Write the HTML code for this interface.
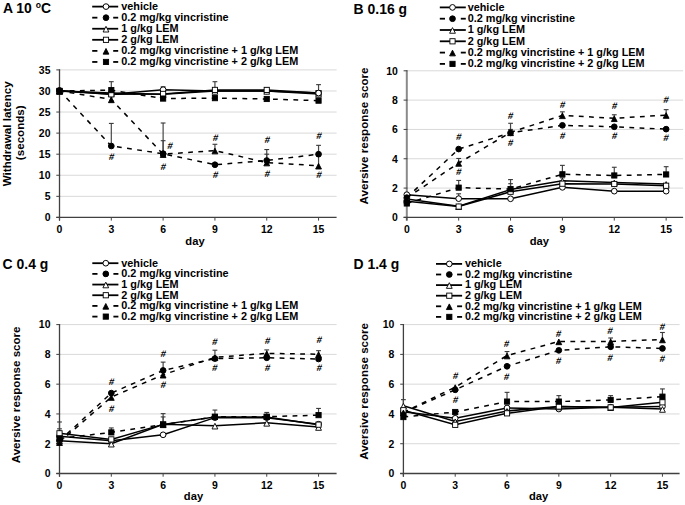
<!DOCTYPE html><html><head><meta charset="utf-8"><style>html,body{margin:0;padding:0;background:#fff;}svg{display:block;}text{font-family:"Liberation Sans", sans-serif;}</style></head><body>
<svg width="685" height="505" viewBox="0 0 685 505">
<rect width="685" height="505" fill="#fff"/>
<g><line x1="59.50" y1="196.33" x2="336.60" y2="196.33" stroke="#d9d9d9" stroke-width="1"/><line x1="59.50" y1="175.26" x2="336.60" y2="175.26" stroke="#d9d9d9" stroke-width="1"/><line x1="59.50" y1="154.19" x2="336.60" y2="154.19" stroke="#d9d9d9" stroke-width="1"/><line x1="59.50" y1="133.11" x2="336.60" y2="133.11" stroke="#d9d9d9" stroke-width="1"/><line x1="59.50" y1="112.04" x2="336.60" y2="112.04" stroke="#d9d9d9" stroke-width="1"/><line x1="59.50" y1="90.97" x2="336.60" y2="90.97" stroke="#d9d9d9" stroke-width="1"/><line x1="59.50" y1="69.90" x2="336.60" y2="69.90" stroke="#d9d9d9" stroke-width="1"/><line x1="59.50" y1="69.40" x2="59.50" y2="220.60" stroke="#404040" stroke-width="1.3"/><line x1="56.30" y1="217.40" x2="336.60" y2="217.40" stroke="#404040" stroke-width="1.3"/><line x1="56.30" y1="217.40" x2="60.10" y2="217.40" stroke="#404040" stroke-width="1"/><text x="0" y="0" font-size="10.9" font-weight="bold" text-anchor="end" transform="translate(50.50,221.25) scale(0.96,1)">0</text><line x1="56.30" y1="196.33" x2="60.10" y2="196.33" stroke="#404040" stroke-width="1"/><text x="0" y="0" font-size="10.9" font-weight="bold" text-anchor="end" transform="translate(50.50,200.18) scale(0.96,1)">5</text><line x1="56.30" y1="175.26" x2="60.10" y2="175.26" stroke="#404040" stroke-width="1"/><text x="0" y="0" font-size="10.9" font-weight="bold" text-anchor="end" transform="translate(50.50,179.11) scale(0.96,1)">10</text><line x1="56.30" y1="154.19" x2="60.10" y2="154.19" stroke="#404040" stroke-width="1"/><text x="0" y="0" font-size="10.9" font-weight="bold" text-anchor="end" transform="translate(50.50,158.04) scale(0.96,1)">15</text><line x1="56.30" y1="133.11" x2="60.10" y2="133.11" stroke="#404040" stroke-width="1"/><text x="0" y="0" font-size="10.9" font-weight="bold" text-anchor="end" transform="translate(50.50,136.96) scale(0.96,1)">20</text><line x1="56.30" y1="112.04" x2="60.10" y2="112.04" stroke="#404040" stroke-width="1"/><text x="0" y="0" font-size="10.9" font-weight="bold" text-anchor="end" transform="translate(50.50,115.89) scale(0.96,1)">25</text><line x1="56.30" y1="90.97" x2="60.10" y2="90.97" stroke="#404040" stroke-width="1"/><text x="0" y="0" font-size="10.9" font-weight="bold" text-anchor="end" transform="translate(50.50,94.82) scale(0.96,1)">30</text><line x1="56.30" y1="69.90" x2="60.10" y2="69.90" stroke="#404040" stroke-width="1"/><text x="0" y="0" font-size="10.9" font-weight="bold" text-anchor="end" transform="translate(50.50,73.75) scale(0.96,1)">35</text><line x1="59.50" y1="217.40" x2="59.50" y2="220.60" stroke="#444" stroke-width="1"/><text x="0" y="0" font-size="10.9" font-weight="bold" text-anchor="middle" transform="translate(59.50,233.30) scale(0.96,1)">0</text><line x1="111.31" y1="217.40" x2="111.31" y2="220.60" stroke="#444" stroke-width="1"/><text x="0" y="0" font-size="10.9" font-weight="bold" text-anchor="middle" transform="translate(111.31,233.30) scale(0.96,1)">3</text><line x1="163.12" y1="217.40" x2="163.12" y2="220.60" stroke="#444" stroke-width="1"/><text x="0" y="0" font-size="10.9" font-weight="bold" text-anchor="middle" transform="translate(163.12,233.30) scale(0.96,1)">6</text><line x1="214.93" y1="217.40" x2="214.93" y2="220.60" stroke="#444" stroke-width="1"/><text x="0" y="0" font-size="10.9" font-weight="bold" text-anchor="middle" transform="translate(214.93,233.30) scale(0.96,1)">9</text><line x1="266.74" y1="217.40" x2="266.74" y2="220.60" stroke="#444" stroke-width="1"/><text x="0" y="0" font-size="10.9" font-weight="bold" text-anchor="middle" transform="translate(266.74,233.30) scale(0.96,1)">12</text><line x1="318.55" y1="217.40" x2="318.55" y2="220.60" stroke="#444" stroke-width="1"/><text x="0" y="0" font-size="10.9" font-weight="bold" text-anchor="middle" transform="translate(318.55,233.30) scale(0.96,1)">15</text><line x1="111.31" y1="146.01" x2="111.31" y2="123.42" stroke="#484848" stroke-width="1.2"/><line x1="108.91" y1="123.42" x2="113.71" y2="123.42" stroke="#383838" stroke-width="1.1"/><line x1="163.12" y1="153.76" x2="163.12" y2="123.00" stroke="#484848" stroke-width="1.2"/><line x1="160.72" y1="123.00" x2="165.52" y2="123.00" stroke="#383838" stroke-width="1.1"/><line x1="163.12" y1="154.19" x2="163.12" y2="140.70" stroke="#484848" stroke-width="1.2"/><line x1="160.72" y1="140.70" x2="165.52" y2="140.70" stroke="#383838" stroke-width="1.1"/><line x1="214.93" y1="150.60" x2="214.93" y2="144.28" stroke="#484848" stroke-width="1.2"/><line x1="212.53" y1="144.28" x2="217.33" y2="144.28" stroke="#383838" stroke-width="1.1"/><line x1="266.74" y1="160.51" x2="266.74" y2="149.55" stroke="#484848" stroke-width="1.2"/><line x1="264.34" y1="149.55" x2="269.14" y2="149.55" stroke="#383838" stroke-width="1.1"/><line x1="266.74" y1="162.61" x2="266.74" y2="154.19" stroke="#484848" stroke-width="1.2"/><line x1="264.34" y1="154.19" x2="269.14" y2="154.19" stroke="#383838" stroke-width="1.1"/><line x1="318.55" y1="154.19" x2="318.55" y2="145.34" stroke="#484848" stroke-width="1.2"/><line x1="316.15" y1="145.34" x2="320.95" y2="145.34" stroke="#383838" stroke-width="1.1"/><line x1="318.55" y1="165.78" x2="318.55" y2="155.87" stroke="#484848" stroke-width="1.2"/><line x1="316.15" y1="155.87" x2="320.95" y2="155.87" stroke="#383838" stroke-width="1.1"/><line x1="111.31" y1="90.13" x2="111.31" y2="81.70" stroke="#484848" stroke-width="1.2"/><line x1="108.91" y1="81.70" x2="113.71" y2="81.70" stroke="#383838" stroke-width="1.1"/><line x1="214.93" y1="89.92" x2="214.93" y2="81.70" stroke="#484848" stroke-width="1.2"/><line x1="212.53" y1="81.70" x2="217.33" y2="81.70" stroke="#383838" stroke-width="1.1"/><line x1="318.55" y1="93.08" x2="318.55" y2="84.65" stroke="#484848" stroke-width="1.2"/><line x1="316.15" y1="84.65" x2="320.95" y2="84.65" stroke="#383838" stroke-width="1.1"/><line x1="163.12" y1="89.71" x2="163.12" y2="86.76" stroke="#484848" stroke-width="1.2"/><line x1="160.72" y1="86.76" x2="165.52" y2="86.76" stroke="#383838" stroke-width="1.1"/><line x1="266.74" y1="89.92" x2="266.74" y2="87.60" stroke="#484848" stroke-width="1.2"/><line x1="264.34" y1="87.60" x2="269.14" y2="87.60" stroke="#383838" stroke-width="1.1"/><polyline points="59.50,90.55 111.31,94.34 163.12,89.71 214.93,90.97 266.74,90.97 318.55,93.08" fill="none" stroke="#000" stroke-width="1.5"/><polyline points="59.50,90.55 111.31,146.01 163.12,153.76 214.93,164.72 266.74,160.51 318.55,154.19" fill="none" stroke="#000" stroke-width="1.5" stroke-dasharray="4.8,5.4"/><polyline points="59.50,90.97 111.31,93.08 163.12,94.34 214.93,90.97 266.74,90.97 318.55,93.92" fill="none" stroke="#000" stroke-width="1.5"/><polyline points="59.50,90.97 111.31,94.34 163.12,93.92 214.93,89.92 266.74,89.92 318.55,93.08" fill="none" stroke="#000" stroke-width="1.5"/><polyline points="59.50,90.97 111.31,99.40 163.12,154.19 214.93,150.60 266.74,162.61 318.55,165.78" fill="none" stroke="#000" stroke-width="1.5" stroke-dasharray="4.8,5.4"/><polyline points="59.50,90.97 111.31,90.13 163.12,98.56 214.93,98.14 266.74,98.98 318.55,100.66" fill="none" stroke="#000" stroke-width="1.5" stroke-dasharray="4.8,5.4"/><circle cx="59.50" cy="90.55" r="2.85" fill="#fff" stroke="#000" stroke-width="1"/><circle cx="111.31" cy="94.34" r="2.85" fill="#fff" stroke="#000" stroke-width="1"/><circle cx="163.12" cy="89.71" r="2.85" fill="#fff" stroke="#000" stroke-width="1"/><circle cx="214.93" cy="90.97" r="2.85" fill="#fff" stroke="#000" stroke-width="1"/><circle cx="266.74" cy="90.97" r="2.85" fill="#fff" stroke="#000" stroke-width="1"/><circle cx="318.55" cy="93.08" r="2.85" fill="#fff" stroke="#000" stroke-width="1"/><circle cx="59.50" cy="90.55" r="2.85" fill="#000" stroke="#000" stroke-width="1"/><circle cx="111.31" cy="146.01" r="2.85" fill="#000" stroke="#000" stroke-width="1"/><circle cx="163.12" cy="153.76" r="2.85" fill="#000" stroke="#000" stroke-width="1"/><circle cx="214.93" cy="164.72" r="2.85" fill="#000" stroke="#000" stroke-width="1"/><circle cx="266.74" cy="160.51" r="2.85" fill="#000" stroke="#000" stroke-width="1"/><circle cx="318.55" cy="154.19" r="2.85" fill="#000" stroke="#000" stroke-width="1"/><path d="M59.50,88.57 L62.40,94.23 L56.60,94.23 Z" fill="#fff" stroke="#000" stroke-width="0.9" stroke-linejoin="miter"/><path d="M111.31,90.68 L114.21,96.33 L108.41,96.33 Z" fill="#fff" stroke="#000" stroke-width="0.9" stroke-linejoin="miter"/><path d="M163.12,91.94 L166.02,97.60 L160.22,97.60 Z" fill="#fff" stroke="#000" stroke-width="0.9" stroke-linejoin="miter"/><path d="M214.93,88.57 L217.83,94.23 L212.03,94.23 Z" fill="#fff" stroke="#000" stroke-width="0.9" stroke-linejoin="miter"/><path d="M266.74,88.57 L269.64,94.23 L263.84,94.23 Z" fill="#fff" stroke="#000" stroke-width="0.9" stroke-linejoin="miter"/><path d="M318.55,91.52 L321.45,97.18 L315.65,97.18 Z" fill="#fff" stroke="#000" stroke-width="0.9" stroke-linejoin="miter"/><rect x="56.90" y="88.37" width="5.20" height="5.20" fill="#fff" stroke="#000" stroke-width="0.9"/><rect x="108.71" y="91.74" width="5.20" height="5.20" fill="#fff" stroke="#000" stroke-width="0.9"/><rect x="160.52" y="91.32" width="5.20" height="5.20" fill="#fff" stroke="#000" stroke-width="0.9"/><rect x="212.33" y="87.32" width="5.20" height="5.20" fill="#fff" stroke="#000" stroke-width="0.9"/><rect x="264.14" y="87.32" width="5.20" height="5.20" fill="#fff" stroke="#000" stroke-width="0.9"/><rect x="315.95" y="90.48" width="5.20" height="5.20" fill="#fff" stroke="#000" stroke-width="0.9"/><path d="M59.50,88.57 L62.40,94.23 L56.60,94.23 Z" fill="#000" stroke="#000" stroke-width="0.9" stroke-linejoin="miter"/><path d="M111.31,97.00 L114.21,102.66 L108.41,102.66 Z" fill="#000" stroke="#000" stroke-width="0.9" stroke-linejoin="miter"/><path d="M163.12,151.79 L166.02,157.44 L160.22,157.44 Z" fill="#000" stroke="#000" stroke-width="0.9" stroke-linejoin="miter"/><path d="M214.93,148.20 L217.83,153.86 L212.03,153.86 Z" fill="#000" stroke="#000" stroke-width="0.9" stroke-linejoin="miter"/><path d="M266.74,160.21 L269.64,165.87 L263.84,165.87 Z" fill="#000" stroke="#000" stroke-width="0.9" stroke-linejoin="miter"/><path d="M318.55,163.38 L321.45,169.03 L315.65,169.03 Z" fill="#000" stroke="#000" stroke-width="0.9" stroke-linejoin="miter"/><rect x="56.90" y="88.37" width="5.20" height="5.20" fill="#000" stroke="#000" stroke-width="0.9"/><rect x="108.71" y="87.53" width="5.20" height="5.20" fill="#000" stroke="#000" stroke-width="0.9"/><rect x="160.52" y="95.96" width="5.20" height="5.20" fill="#000" stroke="#000" stroke-width="0.9"/><rect x="212.33" y="95.54" width="5.20" height="5.20" fill="#000" stroke="#000" stroke-width="0.9"/><rect x="264.14" y="96.38" width="5.20" height="5.20" fill="#000" stroke="#000" stroke-width="0.9"/><rect x="315.95" y="98.06" width="5.20" height="5.20" fill="#000" stroke="#000" stroke-width="0.9"/><circle cx="163.12" cy="153.76" r="2.85" fill="#000" stroke="#000" stroke-width="1"/><circle cx="318.55" cy="93.08" r="2.85" fill="#fff" stroke="#000" stroke-width="1"/><text x="0" y="3.4" font-size="9.5" font-weight="bold" text-anchor="middle" transform="translate(111.70,156.10) skewX(-9)">#</text><text x="0" y="3.4" font-size="9.5" font-weight="bold" text-anchor="middle" transform="translate(170.10,145.10) skewX(-9)">#</text><text x="0" y="3.4" font-size="9.5" font-weight="bold" text-anchor="middle" transform="translate(163.50,166.30) skewX(-9)">#</text><text x="0" y="3.4" font-size="9.5" font-weight="bold" text-anchor="middle" transform="translate(215.70,137.10) skewX(-9)">#</text><text x="0" y="3.4" font-size="9.5" font-weight="bold" text-anchor="middle" transform="translate(215.70,174.10) skewX(-9)">#</text><text x="0" y="3.4" font-size="9.5" font-weight="bold" text-anchor="middle" transform="translate(267.40,140.00) skewX(-9)">#</text><text x="0" y="3.4" font-size="9.5" font-weight="bold" text-anchor="middle" transform="translate(267.40,173.60) skewX(-9)">#</text><text x="0" y="3.4" font-size="9.5" font-weight="bold" text-anchor="middle" transform="translate(319.20,135.60) skewX(-9)">#</text><text x="0" y="3.4" font-size="9.5" font-weight="bold" text-anchor="middle" transform="translate(319.20,174.30) skewX(-9)">#</text><text x="0" y="0" font-size="14.6" font-weight="bold" transform="translate(2.90,13.40) scale(0.955,1)">A 10 <tspan dy="-5" font-size="9">o</tspan><tspan dy="5">C</tspan></text><line x1="92.20" y1="6.60" x2="118.20" y2="6.60" stroke="#000" stroke-width="1.8"/><circle cx="106.00" cy="6.60" r="2.85" fill="#fff" stroke="#000" stroke-width="1"/><text x="121.30" y="9.90" font-size="10.85" font-weight="bold">vehicle</text><line x1="92.20" y1="17.67" x2="97.40" y2="17.67" stroke="#000" stroke-width="1.8"/><line x1="113.20" y1="17.67" x2="118.20" y2="17.67" stroke="#000" stroke-width="1.8"/><circle cx="106.00" cy="17.67" r="2.85" fill="#000" stroke="#000" stroke-width="1"/><text x="121.30" y="20.97" font-size="10.85" font-weight="bold">0.2 mg/kg vincristine</text><line x1="92.20" y1="28.74" x2="118.20" y2="28.74" stroke="#000" stroke-width="1.8"/><path d="M106.00,26.34 L108.90,32.00 L103.10,32.00 Z" fill="#fff" stroke="#000" stroke-width="0.9" stroke-linejoin="miter"/><text x="121.30" y="32.04" font-size="10.85" font-weight="bold">1 g/kg LEM</text><line x1="92.20" y1="39.81" x2="118.20" y2="39.81" stroke="#000" stroke-width="1.8"/><rect x="103.40" y="37.21" width="5.20" height="5.20" fill="#fff" stroke="#000" stroke-width="0.9"/><text x="121.30" y="43.11" font-size="10.85" font-weight="bold">2 g/kg LEM</text><line x1="92.20" y1="50.88" x2="97.40" y2="50.88" stroke="#000" stroke-width="1.8"/><line x1="113.20" y1="50.88" x2="118.20" y2="50.88" stroke="#000" stroke-width="1.8"/><path d="M106.00,48.48 L108.90,54.14 L103.10,54.14 Z" fill="#000" stroke="#000" stroke-width="0.9" stroke-linejoin="miter"/><text x="121.30" y="54.18" font-size="10.85" font-weight="bold">0.2 mg/kg vincristine + 1 g/kg LEM</text><line x1="92.20" y1="61.95" x2="97.40" y2="61.95" stroke="#000" stroke-width="1.8"/><line x1="113.20" y1="61.95" x2="118.20" y2="61.95" stroke="#000" stroke-width="1.8"/><rect x="103.40" y="59.35" width="5.20" height="5.20" fill="#000" stroke="#000" stroke-width="0.9"/><text x="121.30" y="65.25" font-size="10.85" font-weight="bold">0.2 mg/kg vincristine + 2 g/kg LEM</text><text transform="translate(10.70,133.80) rotate(-90)" x="0" y="0" font-size="11.6" font-weight="bold" text-anchor="middle">Withdrawal latency</text><text transform="translate(23.80,132.75) rotate(-90)" x="0" y="0" font-size="11.6" font-weight="bold" text-anchor="middle">(seconds)</text><text x="195.00" y="244.50" font-size="11.2" font-weight="bold" text-anchor="middle">day</text></g>
<g><line x1="406.80" y1="188.08" x2="683.10" y2="188.08" stroke="#d9d9d9" stroke-width="1"/><line x1="406.80" y1="158.76" x2="683.10" y2="158.76" stroke="#d9d9d9" stroke-width="1"/><line x1="406.80" y1="129.44" x2="683.10" y2="129.44" stroke="#d9d9d9" stroke-width="1"/><line x1="406.80" y1="100.12" x2="683.10" y2="100.12" stroke="#d9d9d9" stroke-width="1"/><line x1="406.80" y1="70.80" x2="683.10" y2="70.80" stroke="#d9d9d9" stroke-width="1"/><line x1="406.80" y1="70.30" x2="406.80" y2="220.60" stroke="#8a8a8a" stroke-width="2"/><line x1="403.60" y1="217.40" x2="683.10" y2="217.40" stroke="#404040" stroke-width="1.3"/><line x1="403.60" y1="217.40" x2="407.40" y2="217.40" stroke="#404040" stroke-width="1"/><text x="0" y="0" font-size="10.9" font-weight="bold" text-anchor="end" transform="translate(397.80,221.25) scale(0.96,1)">0</text><line x1="403.60" y1="188.08" x2="407.40" y2="188.08" stroke="#404040" stroke-width="1"/><text x="0" y="0" font-size="10.9" font-weight="bold" text-anchor="end" transform="translate(397.80,191.93) scale(0.96,1)">2</text><line x1="403.60" y1="158.76" x2="407.40" y2="158.76" stroke="#404040" stroke-width="1"/><text x="0" y="0" font-size="10.9" font-weight="bold" text-anchor="end" transform="translate(397.80,162.61) scale(0.96,1)">4</text><line x1="403.60" y1="129.44" x2="407.40" y2="129.44" stroke="#404040" stroke-width="1"/><text x="0" y="0" font-size="10.9" font-weight="bold" text-anchor="end" transform="translate(397.80,133.29) scale(0.96,1)">6</text><line x1="403.60" y1="100.12" x2="407.40" y2="100.12" stroke="#404040" stroke-width="1"/><text x="0" y="0" font-size="10.9" font-weight="bold" text-anchor="end" transform="translate(397.80,103.97) scale(0.96,1)">8</text><line x1="403.60" y1="70.80" x2="407.40" y2="70.80" stroke="#404040" stroke-width="1"/><text x="0" y="0" font-size="10.9" font-weight="bold" text-anchor="end" transform="translate(397.80,74.65) scale(0.96,1)">10</text><line x1="406.80" y1="217.40" x2="406.80" y2="220.60" stroke="#444" stroke-width="1"/><text x="0" y="0" font-size="10.9" font-weight="bold" text-anchor="middle" transform="translate(406.80,233.30) scale(0.96,1)">0</text><line x1="458.67" y1="217.40" x2="458.67" y2="220.60" stroke="#444" stroke-width="1"/><text x="0" y="0" font-size="10.9" font-weight="bold" text-anchor="middle" transform="translate(458.67,233.30) scale(0.96,1)">3</text><line x1="510.54" y1="217.40" x2="510.54" y2="220.60" stroke="#444" stroke-width="1"/><text x="0" y="0" font-size="10.9" font-weight="bold" text-anchor="middle" transform="translate(510.54,233.30) scale(0.96,1)">6</text><line x1="562.41" y1="217.40" x2="562.41" y2="220.60" stroke="#444" stroke-width="1"/><text x="0" y="0" font-size="10.9" font-weight="bold" text-anchor="middle" transform="translate(562.41,233.30) scale(0.96,1)">9</text><line x1="614.28" y1="217.40" x2="614.28" y2="220.60" stroke="#444" stroke-width="1"/><text x="0" y="0" font-size="10.9" font-weight="bold" text-anchor="middle" transform="translate(614.28,233.30) scale(0.96,1)">12</text><line x1="666.15" y1="217.40" x2="666.15" y2="220.60" stroke="#444" stroke-width="1"/><text x="0" y="0" font-size="10.9" font-weight="bold" text-anchor="middle" transform="translate(666.15,233.30) scale(0.96,1)">15</text><line x1="458.67" y1="163.01" x2="458.67" y2="158.47" stroke="#484848" stroke-width="1.2"/><line x1="456.27" y1="158.47" x2="461.07" y2="158.47" stroke="#383838" stroke-width="1.1"/><line x1="458.67" y1="187.64" x2="458.67" y2="180.46" stroke="#484848" stroke-width="1.2"/><line x1="456.27" y1="180.46" x2="461.07" y2="180.46" stroke="#383838" stroke-width="1.1"/><line x1="458.67" y1="198.64" x2="458.67" y2="193.80" stroke="#484848" stroke-width="1.2"/><line x1="456.27" y1="193.80" x2="461.07" y2="193.80" stroke="#383838" stroke-width="1.1"/><line x1="510.54" y1="132.37" x2="510.54" y2="123.28" stroke="#484848" stroke-width="1.2"/><line x1="508.14" y1="123.28" x2="512.94" y2="123.28" stroke="#383838" stroke-width="1.1"/><line x1="510.54" y1="189.11" x2="510.54" y2="179.58" stroke="#484848" stroke-width="1.2"/><line x1="508.14" y1="179.58" x2="512.94" y2="179.58" stroke="#383838" stroke-width="1.1"/><line x1="562.41" y1="174.30" x2="562.41" y2="165.36" stroke="#484848" stroke-width="1.2"/><line x1="560.01" y1="165.36" x2="564.81" y2="165.36" stroke="#383838" stroke-width="1.1"/><line x1="562.41" y1="115.37" x2="562.41" y2="111.85" stroke="#484848" stroke-width="1.2"/><line x1="560.01" y1="111.85" x2="564.81" y2="111.85" stroke="#383838" stroke-width="1.1"/><line x1="614.28" y1="175.47" x2="614.28" y2="167.26" stroke="#484848" stroke-width="1.2"/><line x1="611.88" y1="167.26" x2="616.68" y2="167.26" stroke="#383838" stroke-width="1.1"/><line x1="614.28" y1="118.30" x2="614.28" y2="114.78" stroke="#484848" stroke-width="1.2"/><line x1="611.88" y1="114.78" x2="616.68" y2="114.78" stroke="#383838" stroke-width="1.1"/><line x1="666.15" y1="174.45" x2="666.15" y2="166.68" stroke="#484848" stroke-width="1.2"/><line x1="663.75" y1="166.68" x2="668.55" y2="166.68" stroke="#383838" stroke-width="1.1"/><line x1="666.15" y1="115.07" x2="666.15" y2="109.65" stroke="#484848" stroke-width="1.2"/><line x1="663.75" y1="109.65" x2="668.55" y2="109.65" stroke="#383838" stroke-width="1.1"/><line x1="510.54" y1="132.81" x2="510.54" y2="129.44" stroke="#484848" stroke-width="1.2"/><line x1="508.14" y1="129.44" x2="512.94" y2="129.44" stroke="#383838" stroke-width="1.1"/><line x1="562.41" y1="180.75" x2="562.41" y2="177.82" stroke="#484848" stroke-width="1.2"/><line x1="560.01" y1="177.82" x2="564.81" y2="177.82" stroke="#383838" stroke-width="1.1"/><line x1="510.54" y1="189.55" x2="510.54" y2="183.68" stroke="#484848" stroke-width="1.2"/><line x1="508.14" y1="183.68" x2="512.94" y2="183.68" stroke="#383838" stroke-width="1.1"/><polyline points="406.80,194.68 458.67,198.64 510.54,198.78 562.41,187.35 614.28,191.16 666.15,191.16" fill="none" stroke="#000" stroke-width="1.5"/><polyline points="406.80,197.61 458.67,149.08 510.54,132.81 562.41,125.34 614.28,126.80 666.15,129.15" fill="none" stroke="#000" stroke-width="1.5" stroke-dasharray="4.8,5.4"/><polyline points="406.80,199.07 458.67,206.26 510.54,189.55 562.41,180.75 614.28,182.51 666.15,183.98" fill="none" stroke="#000" stroke-width="1.5"/><polyline points="406.80,201.27 458.67,206.55 510.54,191.75 562.41,183.68 614.28,183.98 666.15,185.73" fill="none" stroke="#000" stroke-width="1.5"/><polyline points="406.80,197.90 458.67,163.01 510.54,132.37 562.41,115.37 614.28,118.30 666.15,115.07" fill="none" stroke="#000" stroke-width="1.5" stroke-dasharray="4.8,5.4"/><polyline points="406.80,203.47 458.67,187.64 510.54,189.11 562.41,174.30 614.28,175.47 666.15,174.45" fill="none" stroke="#000" stroke-width="1.5" stroke-dasharray="4.8,5.4"/><circle cx="406.80" cy="194.68" r="2.85" fill="#fff" stroke="#000" stroke-width="1"/><circle cx="458.67" cy="198.64" r="2.85" fill="#fff" stroke="#000" stroke-width="1"/><circle cx="510.54" cy="198.78" r="2.85" fill="#fff" stroke="#000" stroke-width="1"/><circle cx="562.41" cy="187.35" r="2.85" fill="#fff" stroke="#000" stroke-width="1"/><circle cx="614.28" cy="191.16" r="2.85" fill="#fff" stroke="#000" stroke-width="1"/><circle cx="666.15" cy="191.16" r="2.85" fill="#fff" stroke="#000" stroke-width="1"/><circle cx="406.80" cy="197.61" r="2.85" fill="#000" stroke="#000" stroke-width="1"/><circle cx="458.67" cy="149.08" r="2.85" fill="#000" stroke="#000" stroke-width="1"/><circle cx="510.54" cy="132.81" r="2.85" fill="#000" stroke="#000" stroke-width="1"/><circle cx="562.41" cy="125.34" r="2.85" fill="#000" stroke="#000" stroke-width="1"/><circle cx="614.28" cy="126.80" r="2.85" fill="#000" stroke="#000" stroke-width="1"/><circle cx="666.15" cy="129.15" r="2.85" fill="#000" stroke="#000" stroke-width="1"/><path d="M406.80,196.67 L409.70,202.33 L403.90,202.33 Z" fill="#fff" stroke="#000" stroke-width="0.9" stroke-linejoin="miter"/><path d="M458.67,203.86 L461.57,209.51 L455.77,209.51 Z" fill="#fff" stroke="#000" stroke-width="0.9" stroke-linejoin="miter"/><path d="M510.54,187.15 L513.44,192.80 L507.64,192.80 Z" fill="#fff" stroke="#000" stroke-width="0.9" stroke-linejoin="miter"/><path d="M562.41,178.35 L565.31,184.00 L559.51,184.00 Z" fill="#fff" stroke="#000" stroke-width="0.9" stroke-linejoin="miter"/><path d="M614.28,180.11 L617.18,185.76 L611.38,185.76 Z" fill="#fff" stroke="#000" stroke-width="0.9" stroke-linejoin="miter"/><path d="M666.15,181.58 L669.05,187.23 L663.25,187.23 Z" fill="#fff" stroke="#000" stroke-width="0.9" stroke-linejoin="miter"/><rect x="404.20" y="198.67" width="5.20" height="5.20" fill="#fff" stroke="#000" stroke-width="0.9"/><rect x="456.07" y="203.95" width="5.20" height="5.20" fill="#fff" stroke="#000" stroke-width="0.9"/><rect x="507.94" y="189.15" width="5.20" height="5.20" fill="#fff" stroke="#000" stroke-width="0.9"/><rect x="559.81" y="181.08" width="5.20" height="5.20" fill="#fff" stroke="#000" stroke-width="0.9"/><rect x="611.68" y="181.38" width="5.20" height="5.20" fill="#fff" stroke="#000" stroke-width="0.9"/><rect x="663.55" y="183.13" width="5.20" height="5.20" fill="#fff" stroke="#000" stroke-width="0.9"/><path d="M406.80,195.50 L409.70,201.16 L403.90,201.16 Z" fill="#000" stroke="#000" stroke-width="0.9" stroke-linejoin="miter"/><path d="M458.67,160.61 L461.57,166.27 L455.77,166.27 Z" fill="#000" stroke="#000" stroke-width="0.9" stroke-linejoin="miter"/><path d="M510.54,129.97 L513.44,135.63 L507.64,135.63 Z" fill="#000" stroke="#000" stroke-width="0.9" stroke-linejoin="miter"/><path d="M562.41,112.97 L565.31,118.62 L559.51,118.62 Z" fill="#000" stroke="#000" stroke-width="0.9" stroke-linejoin="miter"/><path d="M614.28,115.90 L617.18,121.55 L611.38,121.55 Z" fill="#000" stroke="#000" stroke-width="0.9" stroke-linejoin="miter"/><path d="M666.15,112.67 L669.05,118.33 L663.25,118.33 Z" fill="#000" stroke="#000" stroke-width="0.9" stroke-linejoin="miter"/><rect x="404.20" y="200.87" width="5.20" height="5.20" fill="#000" stroke="#000" stroke-width="0.9"/><rect x="456.07" y="185.04" width="5.20" height="5.20" fill="#000" stroke="#000" stroke-width="0.9"/><rect x="507.94" y="186.51" width="5.20" height="5.20" fill="#000" stroke="#000" stroke-width="0.9"/><rect x="559.81" y="171.70" width="5.20" height="5.20" fill="#000" stroke="#000" stroke-width="0.9"/><rect x="611.68" y="172.87" width="5.20" height="5.20" fill="#000" stroke="#000" stroke-width="0.9"/><rect x="663.55" y="171.85" width="5.20" height="5.20" fill="#000" stroke="#000" stroke-width="0.9"/><text x="0" y="3.4" font-size="9.5" font-weight="bold" text-anchor="middle" transform="translate(459.00,136.60) skewX(-9)">#</text><text x="0" y="3.4" font-size="9.5" font-weight="bold" text-anchor="middle" transform="translate(459.00,171.70) skewX(-9)">#</text><text x="0" y="3.4" font-size="9.5" font-weight="bold" text-anchor="middle" transform="translate(510.80,115.20) skewX(-9)">#</text><text x="0" y="3.4" font-size="9.5" font-weight="bold" text-anchor="middle" transform="translate(510.80,143.00) skewX(-9)">#</text><text x="0" y="3.4" font-size="9.5" font-weight="bold" text-anchor="middle" transform="translate(562.70,104.10) skewX(-9)">#</text><text x="0" y="3.4" font-size="9.5" font-weight="bold" text-anchor="middle" transform="translate(562.70,135.40) skewX(-9)">#</text><text x="0" y="3.4" font-size="9.5" font-weight="bold" text-anchor="middle" transform="translate(614.60,105.20) skewX(-9)">#</text><text x="0" y="3.4" font-size="9.5" font-weight="bold" text-anchor="middle" transform="translate(614.60,135.30) skewX(-9)">#</text><text x="0" y="3.4" font-size="9.5" font-weight="bold" text-anchor="middle" transform="translate(666.30,99.60) skewX(-9)">#</text><text x="0" y="3.4" font-size="9.5" font-weight="bold" text-anchor="middle" transform="translate(666.30,137.90) skewX(-9)">#</text><text x="0" y="0" font-size="14.6" font-weight="bold" transform="translate(353.60,13.50) scale(0.955,1)">B 0.16 g</text><line x1="439.80" y1="7.40" x2="465.80" y2="7.40" stroke="#000" stroke-width="1.8"/><circle cx="452.50" cy="7.40" r="2.85" fill="#fff" stroke="#000" stroke-width="1"/><text x="467.70" y="10.70" font-size="10.85" font-weight="bold">vehicle</text><line x1="439.80" y1="18.70" x2="445.00" y2="18.70" stroke="#000" stroke-width="1.8"/><line x1="460.80" y1="18.70" x2="465.80" y2="18.70" stroke="#000" stroke-width="1.8"/><circle cx="452.50" cy="18.70" r="2.85" fill="#000" stroke="#000" stroke-width="1"/><text x="467.70" y="22.00" font-size="10.85" font-weight="bold">0.2 mg/kg vincristine</text><line x1="439.80" y1="30.00" x2="465.80" y2="30.00" stroke="#000" stroke-width="1.8"/><path d="M452.50,27.60 L455.40,33.26 L449.60,33.26 Z" fill="#fff" stroke="#000" stroke-width="0.9" stroke-linejoin="miter"/><text x="467.70" y="33.30" font-size="10.85" font-weight="bold">1 g/kg LEM</text><line x1="439.80" y1="41.30" x2="465.80" y2="41.30" stroke="#000" stroke-width="1.8"/><rect x="449.90" y="38.70" width="5.20" height="5.20" fill="#fff" stroke="#000" stroke-width="0.9"/><text x="467.70" y="44.60" font-size="10.85" font-weight="bold">2 g/kg LEM</text><line x1="439.80" y1="52.60" x2="445.00" y2="52.60" stroke="#000" stroke-width="1.8"/><line x1="460.80" y1="52.60" x2="465.80" y2="52.60" stroke="#000" stroke-width="1.8"/><path d="M452.50,50.20 L455.40,55.86 L449.60,55.86 Z" fill="#000" stroke="#000" stroke-width="0.9" stroke-linejoin="miter"/><text x="467.70" y="55.90" font-size="10.85" font-weight="bold">0.2 mg/kg vincristine + 1 g/kg LEM</text><line x1="439.80" y1="63.90" x2="445.00" y2="63.90" stroke="#000" stroke-width="1.8"/><line x1="460.80" y1="63.90" x2="465.80" y2="63.90" stroke="#000" stroke-width="1.8"/><rect x="449.90" y="61.30" width="5.20" height="5.20" fill="#000" stroke="#000" stroke-width="0.9"/><text x="467.70" y="67.20" font-size="10.85" font-weight="bold">0.2 mg/kg vincristine + 2 g/kg LEM</text><text transform="translate(368.00,136.00) rotate(-90)" x="0" y="0" font-size="11.6" font-weight="bold" text-anchor="middle">Aversive response score</text><text x="539.40" y="244.50" font-size="11.2" font-weight="bold" text-anchor="middle">day</text></g>
<g><line x1="59.50" y1="443.72" x2="336.60" y2="443.72" stroke="#d9d9d9" stroke-width="1"/><line x1="59.50" y1="413.94" x2="336.60" y2="413.94" stroke="#d9d9d9" stroke-width="1"/><line x1="59.50" y1="384.16" x2="336.60" y2="384.16" stroke="#d9d9d9" stroke-width="1"/><line x1="59.50" y1="354.38" x2="336.60" y2="354.38" stroke="#d9d9d9" stroke-width="1"/><line x1="59.50" y1="324.60" x2="336.60" y2="324.60" stroke="#d9d9d9" stroke-width="1"/><line x1="59.50" y1="324.10" x2="59.50" y2="476.70" stroke="#404040" stroke-width="1.3"/><line x1="56.30" y1="473.50" x2="336.60" y2="473.50" stroke="#404040" stroke-width="1.3"/><line x1="56.30" y1="473.50" x2="60.10" y2="473.50" stroke="#404040" stroke-width="1"/><text x="0" y="0" font-size="10.9" font-weight="bold" text-anchor="end" transform="translate(50.50,477.35) scale(0.96,1)">0</text><line x1="56.30" y1="443.72" x2="60.10" y2="443.72" stroke="#404040" stroke-width="1"/><text x="0" y="0" font-size="10.9" font-weight="bold" text-anchor="end" transform="translate(50.50,447.57) scale(0.96,1)">2</text><line x1="56.30" y1="413.94" x2="60.10" y2="413.94" stroke="#404040" stroke-width="1"/><text x="0" y="0" font-size="10.9" font-weight="bold" text-anchor="end" transform="translate(50.50,417.79) scale(0.96,1)">4</text><line x1="56.30" y1="384.16" x2="60.10" y2="384.16" stroke="#404040" stroke-width="1"/><text x="0" y="0" font-size="10.9" font-weight="bold" text-anchor="end" transform="translate(50.50,388.01) scale(0.96,1)">6</text><line x1="56.30" y1="354.38" x2="60.10" y2="354.38" stroke="#404040" stroke-width="1"/><text x="0" y="0" font-size="10.9" font-weight="bold" text-anchor="end" transform="translate(50.50,358.23) scale(0.96,1)">8</text><line x1="56.30" y1="324.60" x2="60.10" y2="324.60" stroke="#404040" stroke-width="1"/><text x="0" y="0" font-size="10.9" font-weight="bold" text-anchor="end" transform="translate(50.50,328.45) scale(0.96,1)">10</text><line x1="59.50" y1="473.50" x2="59.50" y2="476.70" stroke="#444" stroke-width="1"/><text x="0" y="0" font-size="10.9" font-weight="bold" text-anchor="middle" transform="translate(59.50,489.40) scale(0.96,1)">0</text><line x1="111.31" y1="473.50" x2="111.31" y2="476.70" stroke="#444" stroke-width="1"/><text x="0" y="0" font-size="10.9" font-weight="bold" text-anchor="middle" transform="translate(111.31,489.40) scale(0.96,1)">3</text><line x1="163.12" y1="473.50" x2="163.12" y2="476.70" stroke="#444" stroke-width="1"/><text x="0" y="0" font-size="10.9" font-weight="bold" text-anchor="middle" transform="translate(163.12,489.40) scale(0.96,1)">6</text><line x1="214.93" y1="473.50" x2="214.93" y2="476.70" stroke="#444" stroke-width="1"/><text x="0" y="0" font-size="10.9" font-weight="bold" text-anchor="middle" transform="translate(214.93,489.40) scale(0.96,1)">9</text><line x1="266.74" y1="473.50" x2="266.74" y2="476.70" stroke="#444" stroke-width="1"/><text x="0" y="0" font-size="10.9" font-weight="bold" text-anchor="middle" transform="translate(266.74,489.40) scale(0.96,1)">12</text><line x1="318.55" y1="473.50" x2="318.55" y2="476.70" stroke="#444" stroke-width="1"/><text x="0" y="0" font-size="10.9" font-weight="bold" text-anchor="middle" transform="translate(318.55,489.40) scale(0.96,1)">15</text><line x1="59.50" y1="438.51" x2="59.50" y2="421.98" stroke="#484848" stroke-width="1.2"/><line x1="57.10" y1="421.98" x2="61.90" y2="421.98" stroke="#383838" stroke-width="1.1"/><line x1="59.50" y1="433.30" x2="59.50" y2="428.83" stroke="#484848" stroke-width="1.2"/><line x1="57.10" y1="428.83" x2="61.90" y2="428.83" stroke="#383838" stroke-width="1.1"/><line x1="111.31" y1="432.40" x2="111.31" y2="427.94" stroke="#484848" stroke-width="1.2"/><line x1="108.91" y1="427.94" x2="113.71" y2="427.94" stroke="#383838" stroke-width="1.1"/><line x1="163.12" y1="424.66" x2="163.12" y2="413.64" stroke="#484848" stroke-width="1.2"/><line x1="160.72" y1="413.64" x2="165.52" y2="413.64" stroke="#383838" stroke-width="1.1"/><line x1="163.12" y1="424.36" x2="163.12" y2="416.92" stroke="#484848" stroke-width="1.2"/><line x1="160.72" y1="416.92" x2="165.52" y2="416.92" stroke="#383838" stroke-width="1.1"/><line x1="163.12" y1="370.46" x2="163.12" y2="362.12" stroke="#484848" stroke-width="1.2"/><line x1="160.72" y1="362.12" x2="165.52" y2="362.12" stroke="#383838" stroke-width="1.1"/><line x1="214.93" y1="416.77" x2="214.93" y2="410.07" stroke="#484848" stroke-width="1.2"/><line x1="212.53" y1="410.07" x2="217.33" y2="410.07" stroke="#383838" stroke-width="1.1"/><line x1="214.93" y1="358.55" x2="214.93" y2="350.21" stroke="#484848" stroke-width="1.2"/><line x1="212.53" y1="350.21" x2="217.33" y2="350.21" stroke="#383838" stroke-width="1.1"/><line x1="266.74" y1="416.77" x2="266.74" y2="412.45" stroke="#484848" stroke-width="1.2"/><line x1="264.34" y1="412.45" x2="269.14" y2="412.45" stroke="#383838" stroke-width="1.1"/><line x1="266.74" y1="353.34" x2="266.74" y2="349.91" stroke="#484848" stroke-width="1.2"/><line x1="264.34" y1="349.91" x2="269.14" y2="349.91" stroke="#383838" stroke-width="1.1"/><line x1="318.55" y1="415.13" x2="318.55" y2="408.43" stroke="#484848" stroke-width="1.2"/><line x1="316.15" y1="408.43" x2="320.95" y2="408.43" stroke="#383838" stroke-width="1.1"/><line x1="318.55" y1="354.23" x2="318.55" y2="350.66" stroke="#484848" stroke-width="1.2"/><line x1="316.15" y1="350.66" x2="320.95" y2="350.66" stroke="#383838" stroke-width="1.1"/><polyline points="59.50,436.27 111.31,440.74 163.12,434.79 214.93,417.66 266.74,417.66 318.55,424.21" fill="none" stroke="#000" stroke-width="1.5"/><polyline points="59.50,440.74 111.31,393.09 163.12,370.46 214.93,358.55 266.74,357.80 318.55,359.00" fill="none" stroke="#000" stroke-width="1.5" stroke-dasharray="4.8,5.4"/><polyline points="59.50,440.74 111.31,443.72 163.12,424.36 214.93,425.70 266.74,422.87 318.55,427.04" fill="none" stroke="#000" stroke-width="1.5"/><polyline points="59.50,433.30 111.31,439.40 163.12,424.36 214.93,416.92 266.74,416.92 318.55,424.66" fill="none" stroke="#000" stroke-width="1.5"/><polyline points="59.50,442.23 111.31,397.11 163.12,374.78 214.93,357.36 266.74,353.34 318.55,354.23" fill="none" stroke="#000" stroke-width="1.5" stroke-dasharray="4.8,5.4"/><polyline points="59.50,438.51 111.31,432.40 163.12,424.66 214.93,416.77 266.74,416.77 318.55,415.13" fill="none" stroke="#000" stroke-width="1.5" stroke-dasharray="4.8,5.4"/><circle cx="59.50" cy="436.27" r="2.85" fill="#fff" stroke="#000" stroke-width="1"/><circle cx="111.31" cy="440.74" r="2.85" fill="#fff" stroke="#000" stroke-width="1"/><circle cx="163.12" cy="434.79" r="2.85" fill="#fff" stroke="#000" stroke-width="1"/><circle cx="214.93" cy="417.66" r="2.85" fill="#fff" stroke="#000" stroke-width="1"/><circle cx="266.74" cy="417.66" r="2.85" fill="#fff" stroke="#000" stroke-width="1"/><circle cx="318.55" cy="424.21" r="2.85" fill="#fff" stroke="#000" stroke-width="1"/><circle cx="59.50" cy="440.74" r="2.85" fill="#000" stroke="#000" stroke-width="1"/><circle cx="111.31" cy="393.09" r="2.85" fill="#000" stroke="#000" stroke-width="1"/><circle cx="163.12" cy="370.46" r="2.85" fill="#000" stroke="#000" stroke-width="1"/><circle cx="214.93" cy="358.55" r="2.85" fill="#000" stroke="#000" stroke-width="1"/><circle cx="266.74" cy="357.80" r="2.85" fill="#000" stroke="#000" stroke-width="1"/><circle cx="318.55" cy="359.00" r="2.85" fill="#000" stroke="#000" stroke-width="1"/><path d="M59.50,438.34 L62.40,444.00 L56.60,444.00 Z" fill="#fff" stroke="#000" stroke-width="0.9" stroke-linejoin="miter"/><path d="M111.31,441.32 L114.21,446.98 L108.41,446.98 Z" fill="#fff" stroke="#000" stroke-width="0.9" stroke-linejoin="miter"/><path d="M163.12,421.96 L166.02,427.62 L160.22,427.62 Z" fill="#fff" stroke="#000" stroke-width="0.9" stroke-linejoin="miter"/><path d="M214.93,423.30 L217.83,428.96 L212.03,428.96 Z" fill="#fff" stroke="#000" stroke-width="0.9" stroke-linejoin="miter"/><path d="M266.74,420.47 L269.64,426.13 L263.84,426.13 Z" fill="#fff" stroke="#000" stroke-width="0.9" stroke-linejoin="miter"/><path d="M318.55,424.64 L321.45,430.30 L315.65,430.30 Z" fill="#fff" stroke="#000" stroke-width="0.9" stroke-linejoin="miter"/><rect x="56.90" y="430.70" width="5.20" height="5.20" fill="#fff" stroke="#000" stroke-width="0.9"/><rect x="108.71" y="436.80" width="5.20" height="5.20" fill="#fff" stroke="#000" stroke-width="0.9"/><rect x="160.52" y="421.76" width="5.20" height="5.20" fill="#fff" stroke="#000" stroke-width="0.9"/><rect x="212.33" y="414.32" width="5.20" height="5.20" fill="#fff" stroke="#000" stroke-width="0.9"/><rect x="264.14" y="414.32" width="5.20" height="5.20" fill="#fff" stroke="#000" stroke-width="0.9"/><rect x="315.95" y="422.06" width="5.20" height="5.20" fill="#fff" stroke="#000" stroke-width="0.9"/><path d="M59.50,439.83 L62.40,445.49 L56.60,445.49 Z" fill="#000" stroke="#000" stroke-width="0.9" stroke-linejoin="miter"/><path d="M111.31,394.71 L114.21,400.37 L108.41,400.37 Z" fill="#000" stroke="#000" stroke-width="0.9" stroke-linejoin="miter"/><path d="M163.12,372.38 L166.02,378.03 L160.22,378.03 Z" fill="#000" stroke="#000" stroke-width="0.9" stroke-linejoin="miter"/><path d="M214.93,354.96 L217.83,360.61 L212.03,360.61 Z" fill="#000" stroke="#000" stroke-width="0.9" stroke-linejoin="miter"/><path d="M266.74,350.94 L269.64,356.59 L263.84,356.59 Z" fill="#000" stroke="#000" stroke-width="0.9" stroke-linejoin="miter"/><path d="M318.55,351.83 L321.45,357.49 L315.65,357.49 Z" fill="#000" stroke="#000" stroke-width="0.9" stroke-linejoin="miter"/><rect x="56.90" y="435.91" width="5.20" height="5.20" fill="#000" stroke="#000" stroke-width="0.9"/><rect x="108.71" y="429.80" width="5.20" height="5.20" fill="#000" stroke="#000" stroke-width="0.9"/><rect x="160.52" y="422.06" width="5.20" height="5.20" fill="#000" stroke="#000" stroke-width="0.9"/><rect x="212.33" y="414.17" width="5.20" height="5.20" fill="#000" stroke="#000" stroke-width="0.9"/><rect x="264.14" y="414.17" width="5.20" height="5.20" fill="#000" stroke="#000" stroke-width="0.9"/><rect x="315.95" y="412.53" width="5.20" height="5.20" fill="#000" stroke="#000" stroke-width="0.9"/><text x="0" y="3.4" font-size="9.5" font-weight="bold" text-anchor="middle" transform="translate(111.70,381.10) skewX(-9)">#</text><text x="0" y="3.4" font-size="9.5" font-weight="bold" text-anchor="middle" transform="translate(111.70,408.40) skewX(-9)">#</text><text x="0" y="3.4" font-size="9.5" font-weight="bold" text-anchor="middle" transform="translate(163.50,353.70) skewX(-9)">#</text><text x="0" y="3.4" font-size="9.5" font-weight="bold" text-anchor="middle" transform="translate(163.50,385.00) skewX(-9)">#</text><text x="0" y="3.4" font-size="9.5" font-weight="bold" text-anchor="middle" transform="translate(215.00,341.10) skewX(-9)">#</text><text x="0" y="3.4" font-size="9.5" font-weight="bold" text-anchor="middle" transform="translate(215.00,367.70) skewX(-9)">#</text><text x="0" y="3.4" font-size="9.5" font-weight="bold" text-anchor="middle" transform="translate(267.70,340.60) skewX(-9)">#</text><text x="0" y="3.4" font-size="9.5" font-weight="bold" text-anchor="middle" transform="translate(267.70,367.20) skewX(-9)">#</text><text x="0" y="3.4" font-size="9.5" font-weight="bold" text-anchor="middle" transform="translate(319.50,339.90) skewX(-9)">#</text><text x="0" y="3.4" font-size="9.5" font-weight="bold" text-anchor="middle" transform="translate(319.50,367.70) skewX(-9)">#</text><text x="0" y="0" font-size="14.6" font-weight="bold" transform="translate(2.60,268.60) scale(0.955,1)">C 0.4 g</text><line x1="92.30" y1="263.20" x2="118.40" y2="263.20" stroke="#000" stroke-width="1.8"/><circle cx="105.80" cy="263.20" r="2.85" fill="#fff" stroke="#000" stroke-width="1"/><text x="121.30" y="266.50" font-size="10.85" font-weight="bold">vehicle</text><line x1="92.30" y1="273.88" x2="97.50" y2="273.88" stroke="#000" stroke-width="1.8"/><line x1="113.40" y1="273.88" x2="118.40" y2="273.88" stroke="#000" stroke-width="1.8"/><circle cx="105.80" cy="273.88" r="2.85" fill="#000" stroke="#000" stroke-width="1"/><text x="121.30" y="277.18" font-size="10.85" font-weight="bold">0.2 mg/kg vincristine</text><line x1="92.30" y1="284.56" x2="118.40" y2="284.56" stroke="#000" stroke-width="1.8"/><path d="M105.80,282.16 L108.70,287.81 L102.90,287.81 Z" fill="#fff" stroke="#000" stroke-width="0.9" stroke-linejoin="miter"/><text x="121.30" y="287.86" font-size="10.85" font-weight="bold">1 g/kg LEM</text><line x1="92.30" y1="295.24" x2="118.40" y2="295.24" stroke="#000" stroke-width="1.8"/><rect x="103.20" y="292.64" width="5.20" height="5.20" fill="#fff" stroke="#000" stroke-width="0.9"/><text x="121.30" y="298.54" font-size="10.85" font-weight="bold">2 g/kg LEM</text><line x1="92.30" y1="305.92" x2="97.50" y2="305.92" stroke="#000" stroke-width="1.8"/><line x1="113.40" y1="305.92" x2="118.40" y2="305.92" stroke="#000" stroke-width="1.8"/><path d="M105.80,303.52 L108.70,309.17 L102.90,309.17 Z" fill="#000" stroke="#000" stroke-width="0.9" stroke-linejoin="miter"/><text x="121.30" y="309.22" font-size="10.85" font-weight="bold">0.2 mg/kg vincristine + 1 g/kg LEM</text><line x1="92.30" y1="316.60" x2="97.50" y2="316.60" stroke="#000" stroke-width="1.8"/><line x1="113.40" y1="316.60" x2="118.40" y2="316.60" stroke="#000" stroke-width="1.8"/><rect x="103.20" y="314.00" width="5.20" height="5.20" fill="#000" stroke="#000" stroke-width="0.9"/><text x="121.30" y="319.90" font-size="10.85" font-weight="bold">0.2 mg/kg vincristine + 2 g/kg LEM</text><text transform="translate(19.80,394.85) rotate(-90)" x="0" y="0" font-size="11.6" font-weight="bold" text-anchor="middle">Aversive response score</text><text x="193.50" y="500.40" font-size="11.2" font-weight="bold" text-anchor="middle">day</text></g>
<g><line x1="403.40" y1="443.72" x2="679.60" y2="443.72" stroke="#d9d9d9" stroke-width="1"/><line x1="403.40" y1="413.94" x2="679.60" y2="413.94" stroke="#d9d9d9" stroke-width="1"/><line x1="403.40" y1="384.16" x2="679.60" y2="384.16" stroke="#d9d9d9" stroke-width="1"/><line x1="403.40" y1="354.38" x2="679.60" y2="354.38" stroke="#d9d9d9" stroke-width="1"/><line x1="403.40" y1="324.60" x2="679.60" y2="324.60" stroke="#d9d9d9" stroke-width="1"/><line x1="403.40" y1="324.10" x2="403.40" y2="476.70" stroke="#404040" stroke-width="1.3"/><line x1="400.20" y1="473.50" x2="679.60" y2="473.50" stroke="#404040" stroke-width="1.3"/><line x1="400.20" y1="473.50" x2="404.00" y2="473.50" stroke="#404040" stroke-width="1"/><text x="0" y="0" font-size="10.9" font-weight="bold" text-anchor="end" transform="translate(394.40,477.35) scale(0.96,1)">0</text><line x1="400.20" y1="443.72" x2="404.00" y2="443.72" stroke="#404040" stroke-width="1"/><text x="0" y="0" font-size="10.9" font-weight="bold" text-anchor="end" transform="translate(394.40,447.57) scale(0.96,1)">2</text><line x1="400.20" y1="413.94" x2="404.00" y2="413.94" stroke="#404040" stroke-width="1"/><text x="0" y="0" font-size="10.9" font-weight="bold" text-anchor="end" transform="translate(394.40,417.79) scale(0.96,1)">4</text><line x1="400.20" y1="384.16" x2="404.00" y2="384.16" stroke="#404040" stroke-width="1"/><text x="0" y="0" font-size="10.9" font-weight="bold" text-anchor="end" transform="translate(394.40,388.01) scale(0.96,1)">6</text><line x1="400.20" y1="354.38" x2="404.00" y2="354.38" stroke="#404040" stroke-width="1"/><text x="0" y="0" font-size="10.9" font-weight="bold" text-anchor="end" transform="translate(394.40,358.23) scale(0.96,1)">8</text><line x1="400.20" y1="324.60" x2="404.00" y2="324.60" stroke="#404040" stroke-width="1"/><text x="0" y="0" font-size="10.9" font-weight="bold" text-anchor="end" transform="translate(394.40,328.45) scale(0.96,1)">10</text><line x1="403.40" y1="473.50" x2="403.40" y2="476.70" stroke="#444" stroke-width="1"/><text x="0" y="0" font-size="10.9" font-weight="bold" text-anchor="middle" transform="translate(403.40,489.40) scale(0.96,1)">0</text><line x1="455.21" y1="473.50" x2="455.21" y2="476.70" stroke="#444" stroke-width="1"/><text x="0" y="0" font-size="10.9" font-weight="bold" text-anchor="middle" transform="translate(455.21,489.40) scale(0.96,1)">3</text><line x1="507.02" y1="473.50" x2="507.02" y2="476.70" stroke="#444" stroke-width="1"/><text x="0" y="0" font-size="10.9" font-weight="bold" text-anchor="middle" transform="translate(507.02,489.40) scale(0.96,1)">6</text><line x1="558.83" y1="473.50" x2="558.83" y2="476.70" stroke="#444" stroke-width="1"/><text x="0" y="0" font-size="10.9" font-weight="bold" text-anchor="middle" transform="translate(558.83,489.40) scale(0.96,1)">9</text><line x1="610.64" y1="473.50" x2="610.64" y2="476.70" stroke="#444" stroke-width="1"/><text x="0" y="0" font-size="10.9" font-weight="bold" text-anchor="middle" transform="translate(610.64,489.40) scale(0.96,1)">12</text><line x1="662.45" y1="473.50" x2="662.45" y2="476.70" stroke="#444" stroke-width="1"/><text x="0" y="0" font-size="10.9" font-weight="bold" text-anchor="middle" transform="translate(662.45,489.40) scale(0.96,1)">15</text><line x1="403.40" y1="405.75" x2="403.40" y2="399.65" stroke="#484848" stroke-width="1.2"/><line x1="401.00" y1="399.65" x2="405.80" y2="399.65" stroke="#383838" stroke-width="1.1"/><line x1="507.02" y1="355.57" x2="507.02" y2="351.55" stroke="#484848" stroke-width="1.2"/><line x1="504.62" y1="351.55" x2="509.42" y2="351.55" stroke="#383838" stroke-width="1.1"/><line x1="507.02" y1="401.58" x2="507.02" y2="392.35" stroke="#484848" stroke-width="1.2"/><line x1="504.62" y1="392.35" x2="509.42" y2="392.35" stroke="#383838" stroke-width="1.1"/><line x1="558.83" y1="401.58" x2="558.83" y2="395.63" stroke="#484848" stroke-width="1.2"/><line x1="556.43" y1="395.63" x2="561.23" y2="395.63" stroke="#383838" stroke-width="1.1"/><line x1="610.64" y1="399.94" x2="610.64" y2="395.63" stroke="#484848" stroke-width="1.2"/><line x1="608.24" y1="395.63" x2="613.04" y2="395.63" stroke="#383838" stroke-width="1.1"/><line x1="610.64" y1="341.43" x2="610.64" y2="338.00" stroke="#484848" stroke-width="1.2"/><line x1="608.24" y1="338.00" x2="613.04" y2="338.00" stroke="#383838" stroke-width="1.1"/><line x1="662.45" y1="339.49" x2="662.45" y2="332.49" stroke="#484848" stroke-width="1.2"/><line x1="660.05" y1="332.49" x2="664.85" y2="332.49" stroke="#383838" stroke-width="1.1"/><line x1="662.45" y1="396.67" x2="662.45" y2="388.92" stroke="#484848" stroke-width="1.2"/><line x1="660.05" y1="388.92" x2="664.85" y2="388.92" stroke="#383838" stroke-width="1.1"/><polyline points="403.40,411.71 455.21,418.26 507.02,407.98 558.83,409.03 610.64,407.24 662.45,406.50" fill="none" stroke="#000" stroke-width="1.5"/><polyline points="403.40,412.45 455.21,389.82 507.02,366.29 558.83,350.36 610.64,346.79 662.45,348.42" fill="none" stroke="#000" stroke-width="1.5" stroke-dasharray="4.8,5.4"/><polyline points="403.40,405.75 455.21,421.38 507.02,410.96 558.83,406.50 610.64,407.24 662.45,409.03" fill="none" stroke="#000" stroke-width="1.5"/><polyline points="403.40,410.22 455.21,424.81 507.02,413.34 558.83,406.50 610.64,407.39 662.45,402.33" fill="none" stroke="#000" stroke-width="1.5"/><polyline points="403.40,412.45 455.21,387.14 507.02,355.57 558.83,341.43 610.64,341.43 662.45,339.49" fill="none" stroke="#000" stroke-width="1.5" stroke-dasharray="4.8,5.4"/><polyline points="403.40,417.07 455.21,412.00 507.02,401.58 558.83,401.58 610.64,399.94 662.45,396.67" fill="none" stroke="#000" stroke-width="1.5" stroke-dasharray="4.8,5.4"/><circle cx="403.40" cy="411.71" r="2.85" fill="#fff" stroke="#000" stroke-width="1"/><circle cx="455.21" cy="418.26" r="2.85" fill="#fff" stroke="#000" stroke-width="1"/><circle cx="507.02" cy="407.98" r="2.85" fill="#fff" stroke="#000" stroke-width="1"/><circle cx="558.83" cy="409.03" r="2.85" fill="#fff" stroke="#000" stroke-width="1"/><circle cx="610.64" cy="407.24" r="2.85" fill="#fff" stroke="#000" stroke-width="1"/><circle cx="662.45" cy="406.50" r="2.85" fill="#fff" stroke="#000" stroke-width="1"/><circle cx="403.40" cy="412.45" r="2.85" fill="#000" stroke="#000" stroke-width="1"/><circle cx="455.21" cy="389.82" r="2.85" fill="#000" stroke="#000" stroke-width="1"/><circle cx="507.02" cy="366.29" r="2.85" fill="#000" stroke="#000" stroke-width="1"/><circle cx="558.83" cy="350.36" r="2.85" fill="#000" stroke="#000" stroke-width="1"/><circle cx="610.64" cy="346.79" r="2.85" fill="#000" stroke="#000" stroke-width="1"/><circle cx="662.45" cy="348.42" r="2.85" fill="#000" stroke="#000" stroke-width="1"/><path d="M403.40,403.35 L406.30,409.01 L400.50,409.01 Z" fill="#fff" stroke="#000" stroke-width="0.9" stroke-linejoin="miter"/><path d="M455.21,418.99 L458.11,424.64 L452.31,424.64 Z" fill="#fff" stroke="#000" stroke-width="0.9" stroke-linejoin="miter"/><path d="M507.02,408.56 L509.92,414.22 L504.12,414.22 Z" fill="#fff" stroke="#000" stroke-width="0.9" stroke-linejoin="miter"/><path d="M558.83,404.10 L561.73,409.75 L555.93,409.75 Z" fill="#fff" stroke="#000" stroke-width="0.9" stroke-linejoin="miter"/><path d="M610.64,404.84 L613.54,410.49 L607.74,410.49 Z" fill="#fff" stroke="#000" stroke-width="0.9" stroke-linejoin="miter"/><path d="M662.45,406.63 L665.35,412.28 L659.55,412.28 Z" fill="#fff" stroke="#000" stroke-width="0.9" stroke-linejoin="miter"/><rect x="400.80" y="407.62" width="5.20" height="5.20" fill="#fff" stroke="#000" stroke-width="0.9"/><rect x="452.61" y="422.21" width="5.20" height="5.20" fill="#fff" stroke="#000" stroke-width="0.9"/><rect x="504.42" y="410.74" width="5.20" height="5.20" fill="#fff" stroke="#000" stroke-width="0.9"/><rect x="556.23" y="403.89" width="5.20" height="5.20" fill="#fff" stroke="#000" stroke-width="0.9"/><rect x="608.04" y="404.79" width="5.20" height="5.20" fill="#fff" stroke="#000" stroke-width="0.9"/><rect x="659.85" y="399.73" width="5.20" height="5.20" fill="#fff" stroke="#000" stroke-width="0.9"/><path d="M403.40,410.05 L406.30,415.71 L400.50,415.71 Z" fill="#000" stroke="#000" stroke-width="0.9" stroke-linejoin="miter"/><path d="M455.21,384.74 L458.11,390.39 L452.31,390.39 Z" fill="#000" stroke="#000" stroke-width="0.9" stroke-linejoin="miter"/><path d="M507.02,353.17 L509.92,358.83 L504.12,358.83 Z" fill="#000" stroke="#000" stroke-width="0.9" stroke-linejoin="miter"/><path d="M558.83,339.03 L561.73,344.68 L555.93,344.68 Z" fill="#000" stroke="#000" stroke-width="0.9" stroke-linejoin="miter"/><path d="M610.64,339.03 L613.54,344.68 L607.74,344.68 Z" fill="#000" stroke="#000" stroke-width="0.9" stroke-linejoin="miter"/><path d="M662.45,337.09 L665.35,342.75 L659.55,342.75 Z" fill="#000" stroke="#000" stroke-width="0.9" stroke-linejoin="miter"/><rect x="400.80" y="414.47" width="5.20" height="5.20" fill="#000" stroke="#000" stroke-width="0.9"/><rect x="452.61" y="409.40" width="5.20" height="5.20" fill="#000" stroke="#000" stroke-width="0.9"/><rect x="504.42" y="398.98" width="5.20" height="5.20" fill="#000" stroke="#000" stroke-width="0.9"/><rect x="556.23" y="398.98" width="5.20" height="5.20" fill="#000" stroke="#000" stroke-width="0.9"/><rect x="608.04" y="397.34" width="5.20" height="5.20" fill="#000" stroke="#000" stroke-width="0.9"/><rect x="659.85" y="394.07" width="5.20" height="5.20" fill="#000" stroke="#000" stroke-width="0.9"/><text x="0" y="3.4" font-size="9.5" font-weight="bold" text-anchor="middle" transform="translate(455.60,376.00) skewX(-9)">#</text><text x="0" y="3.4" font-size="9.5" font-weight="bold" text-anchor="middle" transform="translate(455.60,399.90) skewX(-9)">#</text><text x="0" y="3.4" font-size="9.5" font-weight="bold" text-anchor="middle" transform="translate(506.80,343.50) skewX(-9)">#</text><text x="0" y="3.4" font-size="9.5" font-weight="bold" text-anchor="middle" transform="translate(506.80,376.70) skewX(-9)">#</text><text x="0" y="3.4" font-size="9.5" font-weight="bold" text-anchor="middle" transform="translate(558.60,333.30) skewX(-9)">#</text><text x="0" y="3.4" font-size="9.5" font-weight="bold" text-anchor="middle" transform="translate(558.60,360.10) skewX(-9)">#</text><text x="0" y="3.4" font-size="9.5" font-weight="bold" text-anchor="middle" transform="translate(610.10,330.90) skewX(-9)">#</text><text x="0" y="3.4" font-size="9.5" font-weight="bold" text-anchor="middle" transform="translate(610.10,357.70) skewX(-9)">#</text><text x="0" y="3.4" font-size="9.5" font-weight="bold" text-anchor="middle" transform="translate(662.40,326.90) skewX(-9)">#</text><text x="0" y="3.4" font-size="9.5" font-weight="bold" text-anchor="middle" transform="translate(662.40,358.20) skewX(-9)">#</text><text x="0" y="0" font-size="14.6" font-weight="bold" transform="translate(353.50,268.60) scale(0.955,1)">D 1.4 g</text><line x1="436.00" y1="263.90" x2="462.10" y2="263.90" stroke="#000" stroke-width="1.8"/><circle cx="449.30" cy="263.90" r="2.85" fill="#fff" stroke="#000" stroke-width="1"/><text x="464.90" y="267.20" font-size="10.85" font-weight="bold">vehicle</text><line x1="436.00" y1="274.50" x2="441.20" y2="274.50" stroke="#000" stroke-width="1.8"/><line x1="457.10" y1="274.50" x2="462.10" y2="274.50" stroke="#000" stroke-width="1.8"/><circle cx="449.30" cy="274.50" r="2.85" fill="#000" stroke="#000" stroke-width="1"/><text x="464.90" y="277.80" font-size="10.85" font-weight="bold">0.2 mg/kg vincristine</text><line x1="436.00" y1="285.10" x2="462.10" y2="285.10" stroke="#000" stroke-width="1.8"/><path d="M449.30,282.70 L452.20,288.35 L446.40,288.35 Z" fill="#fff" stroke="#000" stroke-width="0.9" stroke-linejoin="miter"/><text x="464.90" y="288.40" font-size="10.85" font-weight="bold">1 g/kg LEM</text><line x1="436.00" y1="295.70" x2="462.10" y2="295.70" stroke="#000" stroke-width="1.8"/><rect x="446.70" y="293.10" width="5.20" height="5.20" fill="#fff" stroke="#000" stroke-width="0.9"/><text x="464.90" y="299.00" font-size="10.85" font-weight="bold">2 g/kg LEM</text><line x1="436.00" y1="306.30" x2="441.20" y2="306.30" stroke="#000" stroke-width="1.8"/><line x1="457.10" y1="306.30" x2="462.10" y2="306.30" stroke="#000" stroke-width="1.8"/><path d="M449.30,303.90 L452.20,309.55 L446.40,309.55 Z" fill="#000" stroke="#000" stroke-width="0.9" stroke-linejoin="miter"/><text x="464.90" y="309.60" font-size="10.85" font-weight="bold">0.2 mg/kg vincristine + 1 g/kg LEM</text><line x1="436.00" y1="316.90" x2="441.20" y2="316.90" stroke="#000" stroke-width="1.8"/><line x1="457.10" y1="316.90" x2="462.10" y2="316.90" stroke="#000" stroke-width="1.8"/><rect x="446.70" y="314.30" width="5.20" height="5.20" fill="#000" stroke="#000" stroke-width="0.9"/><text x="464.90" y="320.20" font-size="10.85" font-weight="bold">0.2 mg/kg vincristine + 2 g/kg LEM</text><text transform="translate(367.70,391.35) rotate(-90)" x="0" y="0" font-size="11.6" font-weight="bold" text-anchor="middle">Aversive response score</text><text x="538.60" y="500.40" font-size="11.2" font-weight="bold" text-anchor="middle">day</text></g>
</svg></body></html>
